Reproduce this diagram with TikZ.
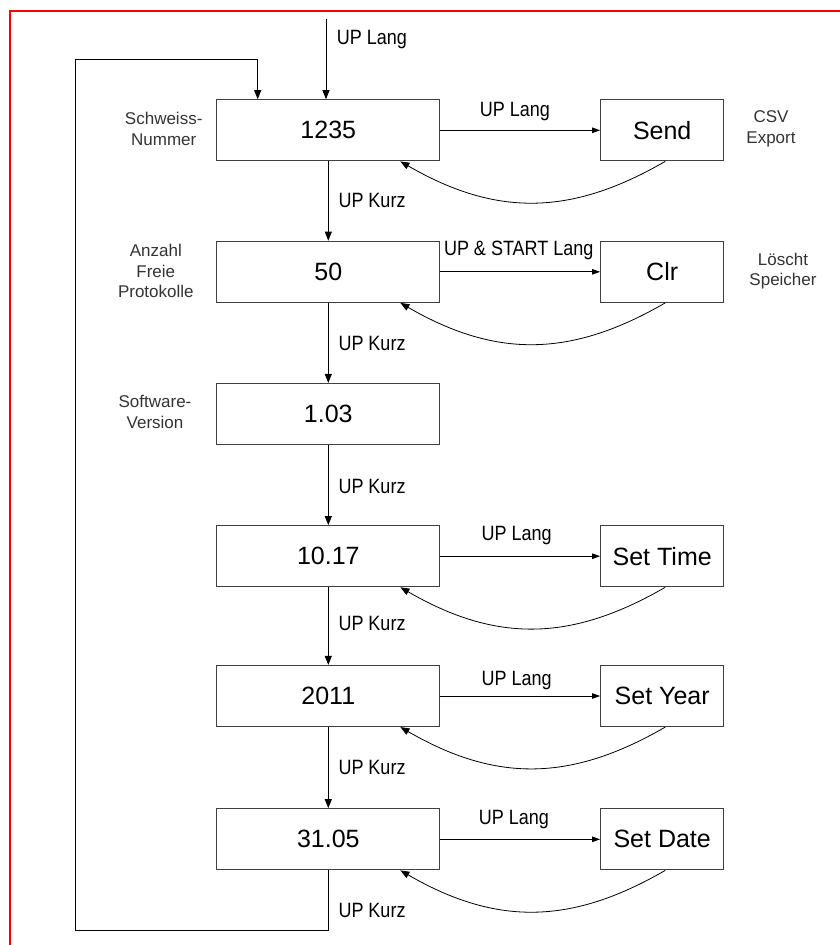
\documentclass[tikz,border=0pt]{standalone}
\usepackage{fontspec}
\setmainfont{Liberation Sans}
\usepackage{graphicx}
\usetikzlibrary{arrows.meta,calc}
\newcommand{\arlbl}[1]{\scalebox{1}[1.15]{#1}}
\begin{document}
\begin{tikzpicture}[x=1pt,y=-1pt,
 mainbox/.style={draw=black!75,line width=1.2pt,minimum width=223pt,minimum height=61pt,inner sep=0pt,font=\fontsize{25}{30}\selectfont},
 sidebox/.style={draw=black!75,line width=1.2pt,minimum width=123pt,minimum height=61pt,inner sep=0pt,font=\fontsize{25}{30}\selectfont},
 note/.style={align=center,font=\fontsize{17}{20.5}\selectfont,text=black!80,inner sep=0pt},
 arlabel/.style={font=\fontsize{18}{20}\selectfont,inner sep=0pt},
 conn/.style={draw=black,line width=0.9pt,-{Triangle[length=9pt,width=7pt]}},
 hconn/.style={draw=black,line width=0.9pt,-{Triangle[length=8pt,width=5.5pt]}},
 back/.style={draw=black,line width=0.8pt,-{Triangle[length=9pt,width=7pt]}},
]
\useasboundingbox (0,0) rectangle (840,945);
\draw[red,line width=2pt] (9.5,945) -- (9.5,11) -- (840,11);

% main column
\node[mainbox] (b1) at (328.3,130.3) {1235};
\node[mainbox] (b2) at (328.3,271.8) {50};
\node[mainbox] (b3) at (328.3,414) {1.03};
\node[mainbox] (b4) at (328.3,556.2) {10.17};
\node[mainbox] (b5) at (328.3,696) {2011};
\node[mainbox] (b6) at (328.3,839.3) {31.05};

% side boxes
\node[sidebox] (s1) at (662.2,130.3) {Send};
\node[sidebox] (s2) at (662.2,271.8) {Clr};
\node[sidebox] (s4) at (662.2,556.2) {Set Time};
\node[sidebox] (s5) at (662.2,696) {Set Year};
\node[sidebox] (s6) at (662.2,839.3) {Set Date};

% side notes
\node[note] (n1) at (163.7,129) {Schweiss-\\Nummer};
\node[note] (n2) at (155.8,271) {Anzahl\\Freie\\Protokolle};
\node[note] (n3) at (155,411.7) {Software-\\Version};
\node[note] (n4) at (771,128.8) {CSV\\Export};
\node[note] (n5) at (783,271) {Löscht\\Speicher};

% entry arrow
\coordinate (top) at (326,18.7);
\draw[conn] (top) -- (top |- b1.north);
\node[arlabel,anchor=west] (lt) at (336.7,40) {\arlbl{UP Lang}};

% vertical arrows
\draw[conn] (b1.south) -- (b2.north);
\draw[conn] (b2.south) -- (b3.north);
\draw[conn] (b3.south) -- (b4.north);
\draw[conn] (b4.south) -- (b5.north);
\draw[conn] (b5.south) -- (b6.north);
\node[arlabel,anchor=west] (k1) at (338.3,200) {\arlbl{UP Kurz}};
\node[arlabel,anchor=west] (k2) at (338.3,343) {\arlbl{UP Kurz}};
\node[arlabel,anchor=west] (k3) at (338.3,486.7) {\arlbl{UP Kurz}};
\node[arlabel,anchor=west] (k4) at (338.3,623) {\arlbl{UP Kurz}};
\node[arlabel,anchor=west] (k5) at (338.3,767.7) {\arlbl{UP Kurz}};
\node[arlabel,anchor=west] (k6) at (338.3,910) {\arlbl{UP Kurz}};

% loop back
\coordinate (loopbl) at (75.7,930.3);
\coordinate (loopin) at (257.7,59.3);
\draw[conn] (b6.south) |- (loopbl) |- (loopin) -- (loopin |- b1.north);

% horizontal arrows
\draw[hconn] (b1.east) -- (s1.west);
\draw[hconn] (b2.east) -- (s2.west);
\draw[hconn] (b4.east) -- (s4.west);
\draw[hconn] (b5.east) -- (s5.west);
\draw[hconn] (b6.east) -- (s6.west);
\node[arlabel] (l1) at (515,111.7) {\arlbl{UP Lang}};
\node[arlabel] (l2) at (518.7,250.7) {\arlbl{UP \& START Lang}};
\node[arlabel] (l4) at (516.7,536) {\arlbl{UP Lang}};
\node[arlabel] (l5) at (516.7,681) {\arlbl{UP Lang}};
\node[arlabel] (l6) at (514,819.3) {\arlbl{UP Lang}};

% return curves
\foreach \s/\b in {s1/b1,s2/b2,s4/b4,s5/b5,s6/b6}{
  \draw[back] ($(\s.south)+(3,0)$) .. controls ($(\s.south)+(-92,55)$) and ($(\b.south east)+(55,55)$) .. ($(\b.south east)+(-40,0)$);
}
\end{tikzpicture}
\end{document}
